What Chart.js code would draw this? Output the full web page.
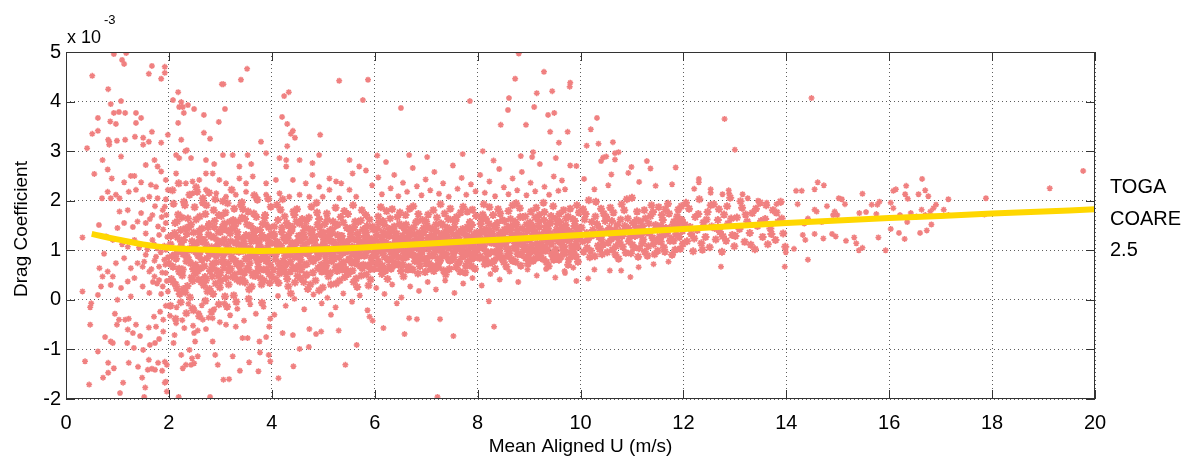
<!DOCTYPE html>
<html>
<head>
<meta charset="utf-8">
<title>Drag Coefficient vs Mean Aligned U</title>
<script src="https://cdn.jsdelivr.net/npm/chart.js@4.4.1/dist/chart.umd.min.js"></script>
<style>
  html, body { margin: 0; padding: 0; background: #fff; }
  #dragChart { display: block; }
</style>
</head>
<body>
<canvas id="dragChart" width="1182" height="462"></canvas>
<script>
// Sumbu
const xTicks = [0, 2, 4, 6, 8, 10, 12, 14, 16, 18, 20];
const yTicks = [-2, -1, 0, 1, 2, 3, 4, 5];
const xTitle = 'Mean Aligned U (m/s)';
const yTitle = 'Drag Coefficient';
const yExponent = ['x 10', '-3'];
const curveLabel = ['TOGA', 'COARE', '2.5'];

// Kurva TOGA COARE 2.5 (Cd x 1e3)
const coareU  = [0.5, 1, 1.5, 2, 2.5, 3, 3.5, 4, 5, 6, 7, 8, 9, 10, 11, 12, 13, 14, 15, 16, 17, 18, 19, 20];
const coareCd = [1.33, 1.22, 1.12, 1.05, 1.02, 1.0, 0.99, 0.99, 1.02, 1.07, 1.13, 1.19, 1.25, 1.31, 1.37, 1.43, 1.49, 1.55, 1.6, 1.65, 1.69, 1.74, 1.78, 1.83];

// Observasi, angin lemah (U < 2)
const lowWindHigh = [
  [0.93,4.96],[1.17,4.98],[1.09,4.84],[1.13,4.76],[0.51,4.52],[1.67,4.72],[1.92,4.7],[1.92,4.58],[1.61,4.56],[1.85,4.46],
  [0.82,4.25],[0.87,3.95],[1.07,4.01],[0.62,3.67],[0.86,3.6],[0.97,3.55],[0.93,3.77],[1.03,3.79],[1.15,3.77],[1.36,3.77],
  [1.46,3.67],[1.36,3.57],[0.62,3.41],[0.51,3.35],[0.82,3.23],[0.84,3.19],[0.84,3.13],[0.99,3.21],[1.15,3.23],[1.34,3.29],
  [1.5,3.27],[1.5,3.13],[1.61,3.19],[1.67,3.39],[1.85,3.17],[1.98,3.33],[0.41,3.06],
  [0.71,2.82],[0.81,2.63],[0.55,2.54],[0.89,2.45],[1.07,2.89],[1.13,2.37],[1.26,2.5],[1.33,2.5],[1.46,2.37],[1.36,2.22],
  [1.22,2.18],[0.81,2.18],[0.97,2.12],[0.7,2.05],[0.87,2.05],[1.04,2.05],[1.55,2.72],[1.72,2.82],[1.78,2.69],[1.65,2.32],
  [1.75,2.28],[1.85,2.59],[1.94,2.42],[1.98,2.22],[1.62,2.08],[1.78,2.05],[1.49,2.02],[1.94,2.03]
];
const lowWindMid = [
  [0.32,1.26],[0.64,1.51],[1.04,1.78],[1.2,1.81],[1.0,1.45],[1.13,1.55],[1.3,1.47],[1.39,1.58],[1.55,1.55],[0.78,1.28],
  [0.91,1.21],[0.65,0.64],[0.71,0.47],[0.81,0.57],[0.91,0.47],[0.87,0.3],[1.07,0.24],[1.2,0.37],[1.33,0.44],[1.49,0.27],
  [1.62,0.14],[1.26,0.07],[1.0,0.0],[1.49,0.67],[1.62,0.57],[1.72,0.47],[1.81,0.4],[1.88,0.27],[1.98,0.17],[1.68,1.21],
  [1.81,1.31],[1.94,1.01],[1.91,0.81],[1.55,0.91],[1.39,0.74],[1.13,0.84],[0.97,0.74],[0.68,0.27],[0.62,0.1],[0.32,0.17],
  [0.49,-0.07],[1.94,1.55],[1.88,1.81],[1.68,1.71],[1.46,1.75],[1.55,1.34],[1.33,1.21],[1.75,0.87],[1.2,1.07],[1.26,0.64],
  [1.81,0.67],[1.94,0.54],[1.58,1.02],[1.66,0.62],[1.71,1.12],[1.77,0.33],[1.84,0.96],[1.89,1.42],[1.93,0.71],[1.97,1.27],
  [1.52,0.77],[1.63,1.63],[1.86,1.67],[1.72,0.79],[1.96,0.38],[1.79,1.48],[1.91,1.09],[1.42,1.05],[1.09,1.12],[0.74,0.93],
  [1.85,0.12],[1.92,1.88],[1.77,1.04],[1.69,0.36],[1.98,0.86],[1.87,0.55],[1.95,1.71],[1.73,1.89]
];
const lowWindNeg = [
  [0.47,-0.15],[0.47,-0.5],[0.37,-1.24],[0.45,-1.71],[0.62,-1.04],[0.76,-0.75],[0.87,-0.84],[0.91,-0.87],[0.82,-1.27],[0.82,-1.47],
  [0.72,-1.57],[0.93,-1.38],[0.95,-0.28],[0.99,-0.5],[1.03,-0.4],[1.15,-0.4],[1.22,-0.38],[1.2,-0.6],[1.19,-0.87],[1.11,-1.67],
  [1.05,-1.88],[1.22,-1.27],[1.32,-0.97],[1.4,-1.35],[1.48,-1.57],[1.54,-1.77],[1.52,-1.96],[1.61,-1.21],[1.67,-1.39],[1.73,-1.41],
  [1.59,-1.41],[1.79,-1.27],[1.87,-1.43],[1.92,-1.25],[1.96,-1.31],[1.92,-1.67],[1.96,-1.85],[1.5,-1.01],[1.63,-0.91],[1.73,-0.87],
  [1.81,-0.79],[1.44,-0.73],[1.3,-0.67],[1.61,-0.56],[1.75,-0.54],[1.89,-0.64],[1.89,-0.4],[1.36,-0.5],[1.71,-0.34],[1.83,-0.24],
  [1.94,-0.12],[1.94,-1.65]
];

// Observasi di luar inti, U 2..14
const midHaloHigh = [
  [2.18,4.19],[2.08,4.03],[2.24,3.99],[2.37,3.93],[2.2,3.89],[2.27,3.89],[2.49,3.85],[2.29,3.77],[2.68,3.73],[2.97,3.59],
  [3.09,3.85],[3.03,4.35],[3.06,4.35],[3.4,4.44],[3.52,4.66],[2.18,3.57],[2.68,3.37],[2.8,3.25],[2.24,3.23],[2.35,3.02],
  [2.32,3.0],[3.79,3.19],[4.24,4.11],[4.33,4.19],[4.2,3.69],[4.3,3.55],[4.41,3.41],[4.37,3.35],[4.45,3.27],[4.3,3.1],
  [4.94,3.33],[5.31,4.42],[5.87,4.44],[5.77,4.03],[6.51,3.87],[7.85,4.01],[6.67,2.92],[8.1,3.0],[8.8,4.97],[8.73,4.46],
  [9.29,4.6],[9.15,4.17],[9.45,4.21],[8.61,4.07],[8.59,3.83],[8.45,3.53],[8.94,3.53],[9.1,3.89],[9.37,3.73],[9.49,3.77],
  [9.41,3.39],[9.58,3.17],[9.08,2.98],[9.06,2.88],[9.8,4.38],[9.79,4.3],[9.75,3.39],[10.32,3.67],[10.2,3.44],[10.12,3.11],
  [10.35,3.15],[10.63,3.18],[10.67,2.96],[10.74,2.98],[12.8,3.65],[13.0,3.03],[14.49,4.07],
  [2.14,2.92],[2.2,2.86],[2.43,2.86],[2.72,2.82],[2.88,2.74],[3.05,2.92],[3.24,2.92],[3.37,2.69],[3.53,2.92],[3.6,2.74],
  [3.89,2.96],[4.15,2.86],[4.28,2.82],[4.54,2.82],[4.79,2.76],[4.92,2.92],[5.12,2.45],[5.25,2.39],[5.35,2.35],[5.51,2.82],
  [5.57,2.55],[5.7,2.69],[2.14,2.55],[2.33,2.35],[2.46,2.39],[2.59,2.42],[2.72,2.55],[2.85,2.55],[2.98,2.42],[3.11,2.35],
  [3.37,2.45],[3.5,2.35],[3.63,2.49],[3.89,2.35],[4.08,2.42],[4.28,2.69],[4.41,2.42],[4.66,2.35],[4.79,2.52],[4.92,2.28],
  [5.12,2.22],[5.51,2.22],[2.46,2.15],[2.72,2.22],[2.92,2.15],[3.11,2.08],[3.3,2.12],[3.5,2.18],[3.69,2.08],[3.89,2.12],
  [4.15,2.15],[4.34,2.08],[4.54,2.12],[4.73,2.08],[4.99,2.08],[5.31,2.05],[5.64,2.08],
  [5.83,2.61],[5.95,2.31],[6.07,2.47],[6.14,2.13],[6.22,2.78],[6.31,2.25],[6.38,2.52],[6.46,2.09],[6.55,2.36],[6.63,2.18],
  [6.74,2.66],[6.82,2.29],[6.91,2.11],[6.99,2.43],[7.08,2.21],[7.16,2.58],[7.25,2.14],[7.33,2.35],[7.44,2.08],[7.52,2.71],
  [7.61,2.24],[7.69,2.46],[7.78,2.12],[7.87,2.33],[7.96,2.19],[8.05,2.52],[8.14,2.16],[8.23,2.39],[8.34,2.09],[8.42,2.64],
  [8.51,2.27],[8.6,2.13],[8.68,2.45],[8.77,2.21],[8.86,2.58],[8.95,2.11],[9.03,2.36],[9.12,2.19],[9.21,2.74],[9.3,2.28],
  [9.39,2.12],[9.48,2.49],[9.57,2.2],[9.64,2.41],[7.02,2.88],[7.71,2.94],[8.31,2.81],[8.84,2.9],[9.52,2.86],[6.05,2.91],
  [10.44,2.87],[10.5,2.89],[10.4,2.8],[10.67,2.83],[10.6,2.53],[10.99,2.68],[10.93,2.56],[11.29,2.8],[11.36,2.65],[11.85,2.67],
  [11.14,2.38],[11.46,2.3],[11.78,2.33],[12.3,2.37],[12.21,2.24],[12.53,2.16],[12.89,2.14],[10.54,2.31],[10.27,2.23],[10.07,2.44],
  [9.7,2.23],[9.92,2.7],[9.8,2.71],[12.3,2.44],[12.53,2.23],[12.88,2.21],[12.76,2.13],[13.15,2.13],[13.25,2.05],[13.45,2.0],
  [13.62,1.96],[13.81,1.93],[13.89,1.96]
];
const midHaloLow = [
  [2.11,-0.71],[2.09,-0.87],[2.24,-1.11],[2.27,-1.38],[2.33,-1.31],[2.43,-1.31],[2.49,-1.28],[2.45,-1.18],[2.56,-1.14],[2.4,-1.01],
  [2.51,-0.84],[2.49,-0.67],[2.56,-0.62],[2.72,-0.59],[2.85,-0.84],[2.9,-1.11],[2.95,-1.31],[3.06,-1.61],[3.17,-1.6],[3.24,-1.14],
  [3.38,-1.43],[3.56,-1.26],[3.74,-1.44],[3.77,-1.06],[3.94,-1.11],[3.97,-1.24],[4.13,-1.58],[2.19,-1.96],[2.8,-1.96],[2.14,-0.47],
  [2.3,-0.57],[2.66,-0.4],[2.85,-0.37],[3.11,-0.5],[3.3,-0.54],[3.43,-0.77],[3.53,-0.77],[3.76,-0.84],[3.89,-0.75],[3.95,-0.54],
  [4.05,-0.3],[4.21,-0.67],[4.41,-0.71],[4.42,-1.34],[4.54,-0.99],[4.72,-0.95],[4.73,-0.59],[4.86,-0.69],[4.96,-0.64],[5.15,-0.3],
  [5.3,-0.62],[5.43,-1.31],[5.65,-0.91],[5.9,-0.34],[5.96,-0.42],[6.17,-0.57],[6.58,-0.69],[6.67,-0.37],[6.82,-0.39],[7.27,-0.39],
  [7.53,-0.73],[8.32,-0.54],[7.22,-1.96],[6.43,-0.07],[8.22,-0.03],
  [2.02,-0.32],[2.15,-0.15],[2.26,-0.41],[2.38,-0.08],[2.47,-0.52],[2.58,-0.27],[2.64,-0.11],[2.77,-0.36],[2.88,-0.19],[2.99,-0.45],
  [3.08,-0.07],[3.19,-0.31],[3.33,-0.18],[3.46,-0.42],[3.58,-0.09],[3.69,-0.28],[3.84,-0.14],[3.97,-0.38],
  [4.12,0.08],[4.27,-0.12],[4.44,0.02],[4.63,-0.19],[4.81,0.11],[4.97,-0.07],[5.08,0.04],[5.24,-0.15],[5.39,0.13],[5.56,-0.04],
  [5.71,0.09],[5.86,-0.21],[6.03,0.24],[6.19,0.12],[6.34,0.31],[6.52,0.05],[6.69,0.27],[6.86,0.18],[7.03,0.36],[7.19,0.21],
  [7.37,0.39],[7.55,0.14],[7.72,0.33],[7.9,0.44],[8.08,0.29],[8.25,0.52],[8.43,0.41],[8.62,0.57],[8.79,0.36],[8.97,0.61],
  [9.15,0.49],[9.33,0.62],[9.51,0.45],[9.69,0.58],[9.86,0.65],[10.57,0.59],[10.79,0.59],[11.13,0.66],[9.7,0.54],[10.27,0.61],
  [10.97,0.46],[9.92,0.38],[10.15,0.43],[11.42,0.72],[11.71,0.77],[12.73,0.67],[13.97,0.67],[13.99,0.96],[14.15,1.03],[14.42,0.81]
];

// Observasi, angin kuat (U > 14)
const highWind = [
  [14.19,2.2],[14.3,2.2],[14.61,2.37],[14.73,2.31],[14.55,2.23],[15.02,2.05],[15.08,2.03],[15.48,2.14],[14.22,1.93],[14.55,1.82],
  [14.59,1.78],[14.42,1.64],[14.79,1.89],[14.94,1.78],[14.91,1.71],[14.99,1.71],[14.69,1.57],[14.35,1.54],[14.55,1.33],[14.37,1.21],
  [14.32,1.31],[14.72,1.24],[14.89,1.33],[14.96,1.28],[15.14,1.93],[15.16,1.19],[15.36,1.14],[15.48,1.05],[15.41,1.0],[15.32,1.26],
  [15.42,1.75],[15.55,1.77],[15.66,1.92],[15.77,1.92],[15.81,1.98],[15.75,1.73],[15.93,1.0],[16.03,1.43],[15.79,1.26],[16.08,1.85],
  [16.19,1.35],[16.3,1.23],[16.35,1.57],[16.42,1.75],[16.53,1.68],[16.63,1.82],[16.7,1.71],[16.8,1.78],[16.86,1.85],[16.91,1.92],
  [16.6,1.35],[16.73,1.4],[16.82,1.52],[17.06,1.82],[17.15,1.71],[16.31,2.13],[16.33,2.3],[16.64,2.44],[16.57,2.13],[16.7,2.21],
  [16.76,2.09],[16.08,2.2],[16.13,2.23],[16.21,1.71],[16.36,2.04],[16.03,1.96],[17.15,2.03],[17.88,2.05],[17.85,1.72],[19.12,2.25],
  [19.77,2.6]
];

// Inti sebaran, dikelompokkan per rentang U
const coreA = [
  [2.05,0.42],[2.11,1.35],[2.14,0.83],[2.18,1.72],[2.21,0.12],[2.24,1.08],[2.27,0.61],[2.31,1.91],[2.33,0.95],[2.36,0.28],
  [2.39,1.47],[2.42,0.74],[2.45,1.18],[2.48,-0.21],[2.51,0.53],[2.53,1.62],[2.57,0.89],[2.6,1.27],[2.63,0.36],[2.66,2.05],
  [2.69,0.68],[2.72,1.12],[2.75,0.17],[2.78,1.53],[2.81,0.92],[2.84,0.47],[2.87,1.81],[2.9,1.03],[2.93,0.59],[2.96,1.38],
  [2.99,0.25],[3.02,1.69],[3.05,0.81],[3.08,1.22],[3.11,0.44],[3.14,1.95],[3.17,0.98],[3.2,0.63],[3.23,1.44],[3.26,0.09],
  [3.29,1.15],[3.32,0.72],[3.35,1.58],[3.38,0.37],[3.41,1.07],[3.44,1.83],[3.47,0.55],[3.5,1.31],[3.53,0.86],[3.56,0.21],
  [3.59,1.49],[3.62,0.96],[3.65,1.74],[3.68,0.48],[3.71,1.19],[3.74,0.67],[3.77,1.41],[3.8,0.31],[3.83,1.02],[3.86,1.65],
  [3.89,0.78],[3.92,1.26],[3.95,0.52],[3.98,1.88],
  [2.03,1.12],[2.08,0.67],[2.12,1.55],[2.16,0.23],[2.19,0.98],[2.23,1.41],[2.26,0.49],[2.29,1.21],[2.34,0.78],[2.37,1.64],
  [2.41,0.05],[2.44,1.01],[2.47,0.62],[2.5,1.87],[2.54,1.15],[2.58,0.41],[2.61,0.97],[2.64,1.44],[2.68,0.29],[2.71,1.73],
  [2.74,0.84],[2.77,1.32],[2.8,0.58],[2.83,1.06],[2.86,0.12],[2.89,1.59],[2.92,0.76],[2.95,1.19],[2.98,0.95],[3.01,0.38],
  [3.04,1.47],[3.07,0.66],[3.1,1.76],[3.13,1.09],[3.16,0.31],[3.19,1.34],[3.22,0.87],[3.25,1.61],[3.28,0.51],[3.31,0.99],
  [3.34,1.27],[3.37,0.69],[3.4,1.92],[3.43,0.42],[3.46,1.13],[3.49,0.83],[3.52,1.52],[3.55,0.61],[3.58,1.04],[3.61,0.27],
  [3.64,1.36],[3.67,0.91],[3.7,1.67],[3.73,0.58],[3.76,1.11],[3.79,0.82],[3.82,1.53],[3.85,0.39],[3.88,1.24],[3.91,0.97],
  [3.94,1.46],[3.97,0.71],
  [2.06,0.88],[2.09,1.94],[2.13,0.31],[2.17,1.26],[2.2,0.57],[2.25,1.66],[2.28,0.92],[2.32,0.15],[2.35,1.33],[2.38,0.81],
  [2.43,1.52],[2.46,0.38],[2.49,1.09],[2.52,0.71],[2.55,2.18],[2.59,1.39],[2.62,0.64],[2.65,1.17],[2.7,0.46],[2.73,1.91],
  [2.76,0.99],[2.79,0.22],[2.82,1.28],[2.85,0.73],[2.88,1.47],[2.91,0.33],[2.94,1.08],[2.97,1.71],[3.0,0.55],[3.03,1.16],
  [3.06,0.93],[3.09,0.07],[3.12,1.41],[3.15,0.74],[3.18,1.57],[3.21,1.01],[3.24,0.46],[3.27,1.84],[3.3,0.79],[3.33,1.37],
  [3.36,0.97],[3.39,0.57],[3.42,1.66],[3.45,1.24],[3.48,0.35],[3.51,1.04],[3.54,1.78],[3.57,0.74],[3.6,1.18],[3.63,0.49],
  [3.66,1.29],[3.69,0.87],[3.72,2.02],[3.75,1.06],[3.78,0.44],[3.81,1.31],[3.84,0.89],[3.87,1.71],[3.9,0.61],[3.93,1.09],
  [3.96,0.34],[3.99,1.33],
  [2.03,-0.12],[2.07,2.21],[2.13,-0.38],[2.19,2.35],[2.23,-0.05],[2.29,1.98],[2.34,-0.27],[2.4,2.12],[2.46,-0.17],[2.53,2.27],
  [2.59,-0.33],[2.66,1.96],[2.71,-0.02],[2.78,2.16],[2.83,-0.24],[2.9,2.03],[2.97,-0.09],[3.05,1.99],[3.13,-0.14],[3.22,2.22],
  [3.31,-0.04],[3.42,1.97],[3.55,0.02],[3.66,2.11],[3.81,-0.06],[3.93,2.04]
];
const coreB = [
  [4.02,0.95],[4.05,1.48],[4.08,0.41],[4.11,1.17],[4.14,0.73],[4.17,1.82],[4.2,0.58],[4.23,1.26],[4.26,0.89],[4.29,1.55],
  [4.32,0.27],[4.35,1.03],[4.38,1.39],[4.41,0.66],[4.44,1.71],[4.47,0.94],[4.5,0.48],[4.53,1.21],[4.56,0.81],[4.59,1.63],
  [4.62,0.36],[4.65,1.12],[4.68,0.72],[4.71,1.44],[4.74,0.99],[4.77,1.88],[4.8,0.55],[4.83,1.28],[4.86,0.84],[4.89,1.52],
  [4.92,0.19],[4.95,1.07],[4.98,0.68],[5.01,1.36],[5.04,0.91],[5.07,1.74],[5.1,0.47],[5.13,1.19],[5.16,0.78],[5.19,1.58],
  [5.22,1.01],[5.25,0.33],[5.28,1.31],[5.31,0.86],[5.34,1.67],[5.37,0.61],[5.4,1.14],[5.43,0.97],[5.46,1.45],[5.49,0.52],
  [5.52,1.23],[5.55,0.75],[5.58,1.91],[5.61,1.05],[5.64,0.43],[5.67,1.35],[5.7,0.88],[5.73,1.6],[5.76,0.64],[5.79,1.17],
  [5.82,0.93],[5.85,1.49],[5.88,0.29],[5.91,1.09],[5.94,0.76],[5.97,1.42],
  [4.03,0.61],[4.06,1.14],[4.1,1.92],[4.13,0.34],[4.16,1.01],[4.19,1.37],[4.22,0.79],[4.25,1.68],[4.28,0.52],[4.31,1.24],
  [4.34,0.91],[4.37,0.13],[4.4,1.47],[4.43,1.06],[4.46,0.63],[4.49,1.83],[4.52,1.29],[4.55,0.44],[4.58,0.97],[4.61,1.36],
  [4.64,0.71],[4.67,1.59],[4.7,0.22],[4.73,1.18],[4.76,0.84],[4.79,1.41],[4.82,1.02],[4.85,0.39],[4.88,1.76],[4.91,0.87],
  [4.94,1.33],[4.97,0.57],[5.0,1.11],[5.03,1.53],[5.06,0.69],[5.09,1.27],[5.12,0.96],[5.15,0.31],[5.18,1.43],[5.21,0.82],
  [5.24,1.86],[5.27,0.58],[5.3,1.08],[5.33,1.21],[5.36,0.74],[5.39,1.56],[5.42,0.46],[5.45,0.99],[5.48,1.73],[5.51,0.83],
  [5.54,1.32],[5.57,0.59],[5.6,1.47],[5.63,0.92],[5.66,0.26],[5.69,1.16],[5.72,1.04],[5.75,1.81],[5.78,0.71],[5.81,1.29],
  [5.84,0.51],[5.87,1.13],[5.9,1.62],[5.93,0.85],[5.96,1.22],[5.99,0.63],
  [4.04,1.29],[4.07,0.82],[4.12,1.61],[4.15,0.53],[4.18,1.09],[4.21,2.03],[4.24,0.66],[4.27,1.19],[4.3,0.42],[4.33,1.49],
  [4.36,0.77],[4.39,1.11],[4.42,1.78],[4.45,0.35],[4.48,1.15],[4.51,0.88],[4.54,1.54],[4.57,0.61],[4.6,1.05],[4.63,1.27],
  [4.66,0.49],[4.69,0.93],[4.72,1.66],[4.75,0.31],[4.78,1.22],[4.81,0.78],[4.84,1.09],[4.87,1.96],[4.9,0.64],[4.93,1.46],
  [4.96,0.96],[4.99,0.25],[5.02,1.18],[5.05,0.79],[5.08,1.61],[5.11,1.03],[5.14,0.55],[5.17,1.34],[5.2,0.89],[5.23,1.11],
  [5.26,1.51],[5.29,0.67],[5.32,0.39],[5.35,1.25],[5.38,0.94],[5.41,1.79],[5.44,0.62],[5.47,1.17],[5.5,0.81],[5.53,1.39],
  [5.56,1.07],[5.59,0.36],[5.62,1.58],[5.65,0.73],[5.68,1.26],[5.71,0.97],[5.74,0.49],[5.77,1.42],[5.8,1.06],[5.83,1.71],
  [5.86,0.69],[5.89,1.24],[5.92,0.41],[5.95,1.14],[5.98,0.91]
];
const coreC = [
  [6.02,1.21],[6.05,0.74],[6.08,1.56],[6.11,0.98],[6.14,0.52],[6.17,1.37],[6.2,1.03],[6.23,1.79],[6.26,0.81],[6.29,1.29],
  [6.32,0.63],[6.35,1.12],[6.38,1.48],[6.41,0.91],[6.44,1.67],[6.47,0.72],[6.5,1.18],[6.53,1.02],[6.56,0.47],[6.59,1.41],
  [6.62,0.86],[6.65,1.26],[6.68,1.84],[6.71,0.95],[6.74,0.61],[6.77,1.33],[6.8,1.08],[6.83,1.59],[6.86,0.77],[6.89,1.21],
  [6.92,0.99],[6.95,1.45],[6.98,0.56],[7.01,1.14],[7.04,1.72],[7.07,0.89],[7.1,1.31],[7.13,0.68],[7.16,1.06],[7.19,1.52],
  [7.22,0.84],[7.25,1.24],[7.28,1.93],[7.31,0.97],[7.34,0.59],[7.37,1.37],[7.4,1.11],[7.43,1.63],[7.46,0.79],[7.49,1.19],
  [7.52,0.93],[7.55,1.47],[7.58,0.66],[7.61,1.28],[7.64,1.04],[7.67,1.76],[7.7,0.87],[7.73,1.35],[7.76,0.55],[7.79,1.16],
  [7.82,1.01],[7.85,1.57],[7.88,0.82],[7.91,1.26],[7.94,0.97],[7.97,1.69],
  [6.03,0.88],[6.06,1.44],[6.09,1.11],[6.12,1.87],[6.15,0.69],[6.18,1.17],[6.21,0.59],[6.24,1.31],[6.27,1.07],[6.3,1.64],
  [6.33,0.84],[6.36,1.38],[6.39,0.71],[6.42,1.22],[6.45,1.01],[6.48,1.53],[6.51,0.58],[6.54,1.29],[6.57,0.93],[6.6,1.71],
  [6.63,1.14],[6.66,0.67],[6.69,1.42],[6.72,1.06],[6.75,1.89],[6.78,0.78],[6.81,1.24],[6.84,0.53],[6.87,1.36],[6.9,0.91],
  [6.93,1.61],[6.96,1.13],[6.99,0.82],[7.02,1.49],[7.05,1.02],[7.08,0.63],[7.11,1.27],[7.14,1.81],[7.17,0.96],[7.2,1.39],
  [7.23,0.72],[7.26,1.15],[7.29,1.54],[7.32,0.88],[7.35,1.23],[7.38,0.51],[7.41,1.46],[7.44,1.05],[7.47,1.84],[7.5,0.81],
  [7.53,1.32],[7.56,1.09],[7.59,1.67],[7.62,0.74],[7.65,1.21],[7.68,0.98],[7.71,1.43],[7.74,1.12],[7.77,0.69],[7.8,1.78],
  [7.83,1.27],[7.86,0.92],[7.89,1.51],[7.92,1.08],[7.95,0.63],[7.98,1.36],
  [6.04,1.02],[6.07,1.68],[6.1,0.63],[6.13,1.27],[6.16,0.94],[6.19,1.51],[6.22,1.16],[6.25,0.42],[6.28,1.43],[6.31,0.97],
  [6.34,1.83],[6.37,0.76],[6.4,1.09],[6.43,1.34],[6.46,0.86],[6.49,1.76],[6.52,1.23],[6.55,0.71],[6.58,1.13],[6.61,1.52],
  [6.64,0.99],[6.67,1.37],[6.7,0.62],[6.73,1.18],[6.76,1.46],[6.79,0.89],[6.82,1.04],[6.85,1.73],[6.88,0.68],[6.91,1.31],
  [6.94,1.06],[6.97,0.83],[7.0,1.58],[7.03,1.25],[7.06,0.74],[7.09,1.09],[7.12,1.44],[7.15,0.58],[7.18,1.22],[7.21,1.66],
  [7.24,1.01],[7.27,0.79],[7.3,1.33],[7.33,1.07],[7.36,1.74],[7.39,0.91],[7.42,1.28],[7.45,0.62],[7.48,1.41],[7.51,1.16],
  [7.54,0.86],[7.57,1.59],[7.6,1.03],[7.63,1.36],[7.66,0.57],[7.69,1.13],[7.72,1.88],[7.75,0.95],[7.78,1.29],[7.81,0.78],
  [7.84,1.42],[7.87,1.11],[7.9,1.82],[7.93,0.85],[7.96,1.23],[7.99,1.01]
];
const coreD = [
  [8.02,1.31],[8.05,0.88],[8.08,1.62],[8.11,1.07],[8.14,0.72],[8.17,1.43],[8.2,1.18],[8.23,1.87],[8.26,0.96],[8.29,1.34],
  [8.32,0.79],[8.35,1.22],[8.38,1.55],[8.41,1.01],[8.44,1.74],[8.47,0.86],[8.5,1.27],[8.53,1.12],[8.56,0.67],[8.59,1.48],
  [8.62,0.94],[8.65,1.36],[8.68,1.91],[8.71,1.04],[8.74,0.77],[8.77,1.41],[8.8,1.16],[8.83,1.67],[8.86,0.91],[8.89,1.29],
  [8.92,1.08],[8.95,1.52],[8.98,0.73],[9.01,1.21],[9.04,1.78],[9.07,0.98],[9.1,1.38],[9.13,0.84],[9.16,1.14],[9.19,1.58],
  [9.22,0.93],[9.25,1.32],[9.28,1.96],[9.31,1.05],[9.34,0.76],[9.37,1.44],[9.4,1.19],[9.43,1.69],[9.46,0.89],[9.49,1.26],
  [9.52,1.02],[9.55,1.53],[9.58,0.81],[9.61,1.35],[9.64,1.11],[9.67,1.81],[9.7,0.95],[9.73,1.42],[9.76,0.71],[9.79,1.23],
  [9.82,1.09],[9.85,1.63],[9.88,0.92],[9.91,1.33],[9.94,1.06],[9.97,1.76],
  [8.03,1.04],[8.06,1.53],[8.09,1.21],[8.12,1.93],[8.15,0.83],[8.18,1.26],[8.21,0.74],[8.24,1.39],[8.27,1.15],[8.3,1.71],
  [8.33,0.97],[8.36,1.46],[8.39,0.86],[8.42,1.31],[8.45,1.09],[8.48,1.61],[8.51,0.76],[8.54,1.37],[8.57,1.02],[8.6,1.79],
  [8.63,1.23],[8.66,0.82],[8.69,1.5],[8.72,1.14],[8.75,1.95],[8.78,0.92],[8.81,1.32],[8.84,0.69],[8.87,1.44],[8.9,1.01],
  [8.93,1.68],[8.96,1.22],[8.99,0.96],[9.02,1.56],[9.05,1.11],[9.08,0.79],[9.11,1.35],[9.14,1.86],[9.17,1.06],[9.2,1.47],
  [9.23,0.85],[9.26,1.24],[9.29,1.61],[9.32,0.99],[9.35,1.31],[9.38,0.68],[9.41,1.54],[9.44,1.13],[9.47,1.89],[9.5,0.94],
  [9.53,1.41],[9.56,1.18],[9.59,1.73],[9.62,0.87],[9.65,1.29],[9.68,1.07],[9.71,1.51],[9.74,1.21],[9.77,0.82],[9.8,1.84],
  [9.83,1.36],[9.86,1.03],[9.89,1.59],[9.92,1.17],[9.95,0.77],[9.98,1.45],
  [8.04,1.13],[8.1,1.72],[8.16,0.98],[8.22,1.54],[8.28,1.27],[8.34,0.63],[8.4,1.83],[8.46,1.19],[8.52,1.42],[8.58,0.89],
  [8.64,1.63],[8.7,1.27],[8.76,1.07],[8.82,1.85],[8.88,1.11],[8.94,0.84],[9.0,1.43],[9.06,1.29],[9.12,1.66],[9.18,0.91],
  [9.24,1.12],[9.3,1.77],[9.36,1.02],[9.42,1.34],[9.48,0.81],[9.54,1.25],[9.6,1.57],[9.66,0.99],[9.72,1.64],[9.78,1.39],
  [9.84,0.88],[9.9,1.49],[9.96,1.24],[8.13,1.36],[8.43,0.94],[8.73,1.58],[9.03,1.03],[9.33,1.49],[9.63,1.16],[9.93,1.91]
];
const coreE = [
  [10.02,1.46],[10.06,0.97],[10.1,1.73],[10.14,1.21],[10.18,0.86],[10.22,1.57],[10.26,1.32],[10.3,1.98],[10.34,1.09],[10.38,1.44],
  [10.42,0.92],[10.46,1.36],[10.5,1.67],[10.54,1.15],[10.58,1.86],[10.62,1.01],[10.66,1.41],[10.7,1.26],[10.74,0.83],[10.78,1.62],
  [10.82,1.07],[10.86,1.49],[10.9,2.03],[10.94,1.18],[10.98,0.94],[11.02,1.55],[11.06,1.29],[11.1,1.78],[11.14,1.04],[11.18,1.43],
  [11.22,1.22],[11.26,1.64],[11.3,0.89],[11.34,1.35],[11.38,1.91],[11.42,1.12],[11.46,1.51],[11.5,0.99],[11.54,1.28],[11.58,1.71],
  [11.62,1.06],[11.66,1.45],[11.7,1.94],[11.74,1.19],[11.78,0.91],[11.82,1.58],[11.86,1.33],[11.9,1.82],[11.94,1.03],[11.98,1.39],
  [10.04,1.18],[10.08,1.62],[10.12,1.35],[10.16,2.01],[10.2,0.99],[10.24,1.41],[10.28,0.88],[10.32,1.53],[10.36,1.27],[10.4,1.84],
  [10.44,1.11],[10.48,1.59],[10.52,0.96],[10.56,1.45],[10.6,1.23],[10.64,1.76],[10.68,0.91],[10.72,1.51],[10.76,1.16],[10.8,1.93],
  [10.84,1.37],[10.88,0.95],[10.92,1.64],[10.96,1.28],[11.0,2.06],[11.04,1.05],[11.08,1.46],[11.12,0.87],[11.16,1.58],[11.2,1.14],
  [11.24,1.81],[11.28,1.36],[11.32,1.08],[11.36,1.69],[11.4,1.25],[11.44,0.92],[11.48,1.47],[11.52,1.87],[11.56,1.17],[11.6,1.61],
  [11.64,0.97],[11.68,1.34],[11.72,1.74],[11.76,1.24],[11.8,1.52],[11.84,1.01],[11.88,1.68],[11.92,1.27],[11.96,1.89],[11.99,1.13],
  [10.05,1.83],[10.13,1.05],[10.21,1.29],[10.29,1.68],[10.37,1.02],[10.45,1.74],[10.53,1.39],[10.61,1.59],[10.69,1.08],[10.77,1.38],
  [10.85,1.81],[10.93,1.45],[11.01,1.11],[11.09,1.61],[11.17,1.31],[11.25,0.97],[11.33,1.54],[11.41,1.77],[11.49,1.21],[11.57,1.49],
  [11.65,1.83],[11.73,1.44],[11.81,1.19],[11.89,1.47],[11.97,1.61],[10.41,1.22],[10.81,1.29],[11.21,1.49],[11.61,1.31],[11.93,1.55]
];
const coreF = [
  [12.03,1.52],[12.07,1.18],[12.11,1.84],[12.15,1.33],[12.19,0.98],[12.23,1.67],[12.27,1.41],[12.31,2.03],[12.35,1.14],[12.39,1.56],
  [12.43,1.27],[12.47,1.77],[12.51,1.06],[12.55,1.48],[12.59,1.93],[12.63,1.22],[12.67,1.61],[12.71,1.37],[12.75,0.97],[12.79,1.72],
  [12.83,1.19],[12.87,1.54],[12.91,2.06],[12.95,1.31],[12.99,1.08],[13.04,1.66],[13.09,1.43],[13.14,1.86],[13.19,1.17],[13.24,1.58],
  [13.29,1.35],[13.34,1.75],[13.39,1.02],[13.44,1.49],[13.49,1.96],[13.54,1.27],[13.59,1.63],[13.64,1.12],[13.69,1.44],[13.74,1.81],
  [13.79,1.21],[13.84,1.57],[13.89,1.98],[13.94,1.34],[13.98,1.07],
  [12.05,1.96],[12.13,1.47],[12.21,1.24],[12.29,1.73],[12.37,1.01],[12.45,1.62],[12.53,1.91],[12.61,1.45],[12.69,1.83],[12.77,1.28],
  [12.85,1.89],[12.93,1.64],[13.01,1.29],[13.11,1.99],[13.21,1.72],[13.31,1.11],[13.41,1.84],[13.51,1.59],[13.61,1.91],[13.71,1.33],
  [13.81,1.76],[13.91,1.64]
];
// Bagian paling padat di sekitar kurva, U 2..10
const coreDense = [
  [2.0,0.74],[2.04,1.29],[2.08,0.36],[2.12,0.91],[2.16,1.58],[2.2,0.63],[2.24,1.17],[2.28,0.22],[2.32,1.44],[2.36,0.86],
  [2.4,1.03],[2.44,0.45],[2.48,1.36],[2.52,0.97],[2.56,0.58],[2.6,1.68],[2.64,0.81],[2.68,1.21],[2.72,0.39],[2.76,1.46],
  [2.8,1.02],[2.84,0.66],[2.88,1.26],[2.92,0.89],[2.96,0.48],[3.0,1.37],[3.04,0.77],[3.08,1.54],[3.12,0.96],[3.16,0.59],
  [3.2,1.18],[3.24,0.83],[3.28,1.49],[3.32,0.41],[3.36,1.12],[3.4,0.73],[3.44,0.99],[3.48,1.63],[3.52,0.64],[3.56,1.28],
  [3.6,0.88],[3.64,0.53],[3.68,1.41],[3.72,0.79],[3.76,1.22],[3.8,0.97],[3.84,0.61],[3.88,1.52],[3.92,0.84],[3.96,1.16],
  [4.0,0.47],[4.04,1.33],[4.08,0.92],[4.12,1.07],[4.16,0.62],[4.2,1.46],[4.24,0.98],[4.28,0.73],[4.32,1.31],[4.36,0.57],
  [4.4,1.15],[4.44,0.86],[4.48,1.58],[4.52,0.69],[4.56,1.19],[4.6,0.94],[4.64,1.47],[4.68,0.51],[4.72,1.02],[4.76,1.34],
  [4.8,0.79],[4.84,1.21],[4.88,0.97],[4.92,1.63],[4.96,0.71],[5.0,1.26],[5.04,0.58],[5.08,1.04],[5.12,1.39],[5.16,0.87],
  [5.2,1.17],[5.24,0.66],[5.28,1.52],[5.32,0.99],[5.36,1.29],[5.4,0.76],[5.44,1.09],[5.48,0.54],[5.52,1.44],[5.56,0.93],
  [5.6,1.22],[5.64,0.81],[5.68,1.57],[5.72,0.68],[5.76,1.13],[5.8,0.89],[5.84,1.36],[5.88,1.01],[5.92,0.62],[5.96,1.48],
  [6.0,0.97],[6.04,1.31],[6.08,0.78],[6.12,1.14],[6.16,1.59],[6.2,0.86],[6.24,1.06],[6.28,0.67],[6.32,1.42],[6.36,0.95],
  [6.4,1.25],[6.44,0.72],[6.48,1.11],[6.52,1.49],[6.56,0.84],[6.6,1.19],[6.64,0.61],[6.68,1.33],[6.72,0.91],[6.76,1.08],
  [6.8,1.56],[6.84,0.79],[6.88,1.23],[6.92,0.98],[6.96,1.37],[7.0,0.73],[7.04,1.16],[7.08,1.44],[7.12,0.89],[7.16,1.28],
  [7.2,1.03],[7.24,0.66],[7.28,1.19],[7.32,1.51],[7.36,0.94],[7.4,1.32],[7.44,0.81],[7.48,1.08],[7.52,1.61],[7.56,0.99],
  [7.6,1.24],[7.64,0.77],[7.68,1.39],[7.72,1.06],[7.76,0.91],[7.8,1.47],[7.84,1.14],[7.88,0.68],[7.92,1.31],[7.96,0.96],
  [8.0,1.22],[8.04,0.84],[8.08,1.41],[8.12,1.09],[8.16,1.63],[8.2,0.92],[8.24,1.27],[8.28,0.76],[8.32,1.48],[8.36,1.13],
  [8.4,0.98],[8.44,1.36],[8.48,0.83],[8.52,1.59],[8.56,1.18],[8.6,1.03],[8.64,1.45],[8.68,0.79],[8.72,1.29],[8.76,1.52],
  [8.8,0.94],[8.84,1.21],[8.88,1.67],[8.92,1.07],[8.96,1.38],[9.0,0.86],[9.04,1.25],[9.08,1.49],[9.12,0.99],[9.16,1.33],
  [9.2,1.71],[9.24,1.04],[9.28,0.82],[9.32,1.41],[9.36,1.16],[9.4,1.56],[9.44,0.93],[9.48,1.28],[9.52,1.63],[9.56,0.88],
  [9.6,1.19],[9.64,1.45],[9.68,1.01],[9.72,1.34],[9.76,1.68],[9.8,0.96],[9.84,1.27],[9.88,1.49],[9.92,0.87],[9.96,1.38]
];

const toXY = pts => pts.map(([x, y]) => ({ x, y }));
const fontFamily = '"Liberation Sans", Arial, Helvetica, sans-serif';
const pointColor = '#f08080';

// Kotak, tick ke dalam, dan teks
const chartDecor = {
  id: 'chartDecor',
  afterDraw(chart) {
    const { ctx, chartArea: a, scales } = chart;
    const tl = 9;
    ctx.save();
    ctx.strokeStyle = '#333';
    ctx.lineWidth = 1;
    ctx.strokeRect(a.left + 0.5, a.top + 0.5, a.right - a.left - 1, a.bottom - a.top - 1);
    ctx.beginPath();
    xTicks.forEach(v => {
      const px = Math.round(scales.x.getPixelForValue(v)) + 0.5;
      ctx.moveTo(px, a.bottom); ctx.lineTo(px, a.bottom - tl);
      ctx.moveTo(px, a.top); ctx.lineTo(px, a.top + tl);
    });
    yTicks.forEach(v => {
      const py = Math.round(scales.y.getPixelForValue(v)) + 0.5;
      ctx.moveTo(a.left, py); ctx.lineTo(a.left + tl, py);
      ctx.moveTo(a.right, py); ctx.lineTo(a.right - tl, py);
    });
    ctx.stroke();

    ctx.fillStyle = '#000';
    ctx.font = '19px ' + fontFamily;
    ctx.textAlign = 'center';
    ctx.textBaseline = 'middle';
    ctx.fillText(xTitle, (a.left + a.right) / 2, 447);
    ctx.save();
    ctx.translate(22, 229);
    ctx.rotate(-Math.PI / 2);
    ctx.fillText(yTitle, 0, 0);
    ctx.restore();

    ctx.textAlign = 'left';
    ctx.textBaseline = 'alphabetic';
    ctx.font = '18px ' + fontFamily;
    ctx.fillText(yExponent[0], 67, 43);
    ctx.font = '13px ' + fontFamily;
    ctx.fillText(yExponent[1], 104, 24);
    ctx.font = '20px ' + fontFamily;
    curveLabel.forEach((t, i) => ctx.fillText(t, 1110, 193 + i * 31.5));
    ctx.restore();
  }
};

const gridOpts = { color: 'rgba(40,40,40,0.75)', lineWidth: 1, drawTicks: false };

new Chart(document.getElementById('dragChart'), {
  type: 'scatter',
  data: {
    datasets: [
      {
        label: 'TOGA COARE 2.5',
        data: coareU.map((u, i) => ({ x: u, y: coareCd[i] })),
        showLine: true,
        borderColor: '#ffd700',
        borderWidth: 6,
        pointRadius: 0,
        tension: 0.4,
        order: 0
      },
      {
        label: 'core',
        data: toXY([...coreA, ...coreB, ...coreC, ...coreD, ...coreE, ...coreF, ...coreDense]),
        pointStyle: 'star',
        pointRadius: 4,
        borderWidth: 2,
        borderColor: pointColor,
        backgroundColor: pointColor,
        order: 1
      },
      {
        label: 'halo',
        data: toXY([...lowWindHigh, ...lowWindMid, ...lowWindNeg, ...midHaloHigh, ...midHaloLow, ...highWind]),
        pointStyle: 'star',
        pointRadius: 3,
        borderWidth: 1.5,
        borderColor: pointColor,
        backgroundColor: pointColor,
        order: 2
      }
    ]
  },
  options: {
    responsive: false,
    animation: false,
    devicePixelRatio: 1,
    layout: { padding: { left: 0, right: 87, top: 52, bottom: 0 } },
    plugins: { legend: { display: false }, tooltip: { enabled: false } },
    scales: {
      x: {
        type: 'linear',
        min: 0, max: 20,
        afterBuildTicks: s => { s.ticks = xTicks.map(v => ({ value: v })); },
        afterFit: s => { s.height = 63; },
        grid: gridOpts,
        border: { display: false, dash: [1, 3] },
        ticks: { color: '#000', padding: 12, font: { family: fontFamily, size: 20 } }
      },
      y: {
        type: 'linear',
        min: -2, max: 5,
        afterBuildTicks: s => { s.ticks = yTicks.map(v => ({ value: v })); },
        afterFit: s => { s.width = 66; },
        grid: gridOpts,
        border: { display: false, dash: [1, 3] },
        ticks: { color: '#000', padding: 5, font: { family: fontFamily, size: 20 } }
      }
    }
  },
  plugins: [chartDecor]
});
</script>
</body>
</html>
